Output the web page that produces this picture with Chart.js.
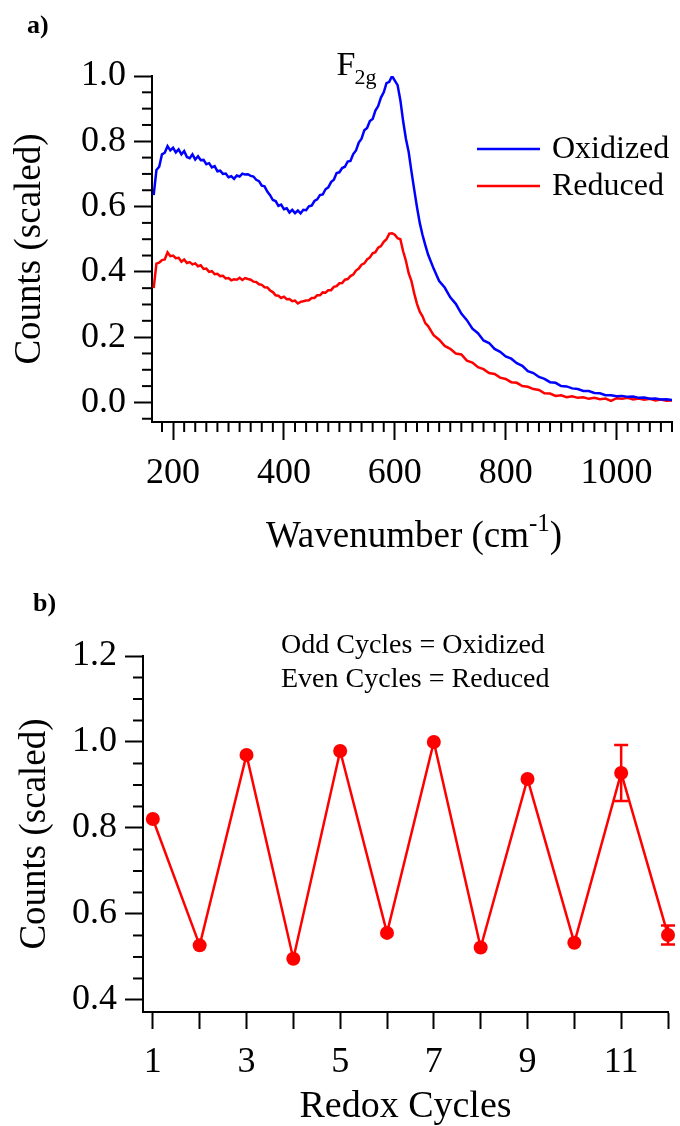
<!DOCTYPE html>
<html>
<head>
<meta charset="UTF-8">
<style>
  html, body { margin: 0; padding: 0; background: #fff; }
  #wrap { position: relative; width: 680px; height: 1126px; overflow: hidden; }
  canvas { position: absolute; left: 0; }
  #specChart { top: 0; }
  #cycleChart { top: 580px; }
</style>
</head>
<body>
<div id="wrap">
  <canvas id="specChart" width="680" height="580"></canvas>
  <canvas id="cycleChart" width="680" height="546"></canvas>
</div>
<script src="https://cdn.jsdelivr.net/npm/chart.js"></script>
<script>
// panel a) Raman spectra
const wavenumber = [165,170,175,180,185,190,195,200,205,210,215,220,225,230,235,240,245,250,255,260,
  265,270,275,280,285,290,295,300,305,310,315,320,325,330,335,340,345,350,355,360,
  365,370,375,380,385,390,395,400,405,410,415,420,425,430,435,440,445,450,455,460,
  465,470,475,480,485,490,495,500,505,510,515,520,525,530,535,540,545,550,555,560,
  565,570,575,580,585,590,595,600,605,610,615,620,625,630,635,640,645,650,655,660,
  670,680,690,700,710,720,730,740,750,760,770,780,790,800,810,820,830,840,850,860,
  870,880,890,900,910,920,930,940,950,960,970,980,990,1000,1010,1020,1030,1040,1050,1060,
  1070,1080,1090,1100];
const oxidized = [0.635,0.712,0.722,0.760,0.765,0.785,0.772,0.780,0.766,0.775,0.760,0.770,0.752,0.748,0.760,0.744,0.754,0.742,0.743,0.730,
  0.733,0.720,0.724,0.708,0.710,0.700,0.701,0.690,0.693,0.685,0.695,0.692,0.701,0.698,0.699,0.694,0.692,0.682,0.678,0.664,
  0.662,0.646,0.635,0.620,0.617,0.602,0.606,0.592,0.595,0.582,0.590,0.580,0.588,0.579,0.590,0.589,0.601,0.603,0.617,0.622,
  0.635,0.637,0.653,0.659,0.675,0.682,0.703,0.705,0.718,0.722,0.738,0.740,0.761,0.772,0.796,0.808,0.834,0.841,0.862,0.868,
  0.894,0.908,0.934,0.950,0.978,0.982,1.000,0.986,0.972,0.926,0.862,0.808,0.767,0.708,0.652,0.598,0.550,0.513,0.482,0.453,
  0.410,0.372,0.352,0.322,0.302,0.272,0.252,0.226,0.212,0.190,0.182,0.164,0.155,0.141,0.134,0.120,0.112,0.096,0.090,0.078,
  0.072,0.062,0.060,0.050,0.049,0.043,0.041,0.035,0.035,0.029,0.028,0.022,0.022,0.019,0.020,0.017,0.018,0.014,0.015,0.011,
  0.012,0.009,0.010,0.007];
const reduced = [0.350,0.425,0.428,0.436,0.438,0.460,0.448,0.450,0.442,0.443,0.431,0.438,0.427,0.430,0.423,0.426,0.417,0.420,0.409,0.410,
  0.400,0.402,0.393,0.394,0.387,0.388,0.380,0.381,0.374,0.377,0.376,0.382,0.375,0.381,0.378,0.376,0.370,0.369,0.362,0.360,
  0.353,0.352,0.343,0.338,0.328,0.327,0.320,0.324,0.316,0.317,0.310,0.312,0.303,0.308,0.310,0.312,0.313,0.320,0.320,0.328,
  0.328,0.337,0.336,0.344,0.344,0.354,0.356,0.365,0.366,0.376,0.378,0.387,0.392,0.404,0.410,0.422,0.426,0.438,0.444,0.457,
  0.460,0.474,0.479,0.492,0.500,0.517,0.518,0.514,0.503,0.500,0.463,0.434,0.396,0.372,0.334,0.302,0.278,0.264,0.243,0.234,
  0.206,0.192,0.173,0.164,0.150,0.147,0.128,0.122,0.108,0.102,0.090,0.087,0.076,0.072,0.062,0.060,0.050,0.048,0.041,0.038,
  0.028,0.027,0.020,0.022,0.016,0.019,0.014,0.016,0.011,0.014,0.010,0.012,0.005,0.013,0.011,0.014,0.009,0.012,0.008,0.011,
  0.006,0.009,0.005,0.006];
const specXTicks = [200, 400, 600, 800, 1000];
const specYTicks = [0.0, 0.2, 0.4, 0.6, 0.8, 1.0];

// panel b) intensity over redox cycles
const cycles = [1, 2, 3, 4, 5, 6, 7, 8, 9, 10, 11, 12];
const cycleCounts = [0.821, 0.527, 0.970, 0.496, 0.979, 0.556, 1.000, 0.522, 0.914, 0.533, 0.928, 0.551];
const cycleErrors = [null, null, null, null, null, null, null, null, null, null, 0.065, 0.022];
const cycleXTicks = [1, 2, 3, 4, 5, 6, 7, 8, 9, 10, 11, 12];
const cycleYTicks = [0.4, 0.6, 0.8, 1.0, 1.2];

const SERIF = "'Liberation Serif', 'Times New Roman', serif";
Chart.defaults.font.family = SERIF;
Chart.defaults.color = '#000';

const minorTicks = {
  id: 'minorTicks',
  afterDraw(chart, args, opts) {
    const ctx = chart.ctx;
    ctx.save();
    ctx.strokeStyle = '#000';
    ctx.lineWidth = 2;
    (opts.axes || []).forEach(a => {
      const s = chart.scales[a.id];
      const majors = s.ticks.map(t => t.value);
      for (let i = 0; ; i++) {
        const v = Math.round((a.from + i * a.step) * 1e6) / 1e6;
        if (v > s.max + 1e-9) break;
        if (v < s.min || majors.some(m => Math.abs(m - v) < 1e-6)) continue;
        const p = s.getPixelForValue(v);
        ctx.beginPath();
        if (s.isHorizontal()) { ctx.moveTo(p, s.top); ctx.lineTo(p, s.top + a.len); }
        else { ctx.moveTo(s.right, p); ctx.lineTo(s.right - a.len, p); }
        ctx.stroke();
      }
    });
    ctx.restore();
  }
};

const textMarks = {
  id: 'textMarks',
  afterDraw(chart, args, opts) {
    const ctx = chart.ctx;
    ctx.save();
    ctx.fillStyle = '#000';
    ctx.textBaseline = 'alphabetic';
    (opts.items || []).forEach(it => {
      let x = it.x;
      it.parts.forEach(p => {
        ctx.font = (p.bold ? 'bold ' : '') + p.size + 'px ' + SERIF;
        ctx.fillText(p.text, x, it.y - (p.rise || 0));
        x += ctx.measureText(p.text).width;
      });
    });
    ctx.restore();
  }
};

const specExtras = {
  id: 'specExtras',
  afterDraw(chart) {
    const ctx = chart.ctx;
    const a = chart.chartArea;
    const xs = chart.scales.x, ys = chart.scales.y;
    ctx.save();
    ctx.fillStyle = '#000';
    // x axis title with superscript
    const parts = [['Wavenumber (cm', 37, 0], ['-1', 25, 16], [')', 37, 0]];
    let w = 0;
    parts.forEach(p => { ctx.font = p[1] + 'px ' + SERIF; w += ctx.measureText(p[0]).width; });
    let x = (a.left + a.right) / 2 - w / 2 + 2;
    parts.forEach(p => {
      ctx.font = p[1] + 'px ' + SERIF;
      ctx.fillText(p[0], x, 547 - p[2]);
      x += ctx.measureText(p[0]).width;
    });
    // F2g peak label
    const fx = xs.getPixelForValue(495);
    const fy = ys.getPixelForValue(1.003);
    ctx.font = '34px ' + SERIF;
    ctx.fillText('F', fx, fy);
    const fw = ctx.measureText('F').width;
    ctx.font = '22px ' + SERIF;
    ctx.fillText('2g', fx + fw - 1, fy + 9);
    // legend
    ctx.font = '32px ' + SERIF;
    ctx.textBaseline = 'middle';
    chart.data.datasets.forEach((ds, i) => {
      const y = 149 + i * 37;
      ctx.strokeStyle = ds.borderColor;
      ctx.lineWidth = 2.5;
      ctx.beginPath();
      ctx.moveTo(477, y); ctx.lineTo(540, y);
      ctx.stroke();
      ctx.fillText(ds.label, 552, y + 1);
    });
    ctx.restore();
  }
};

const errorBars = {
  id: 'errorBars',
  afterDatasetsDraw(chart) {
    const ctx = chart.ctx;
    const xs = chart.scales.x, ys = chart.scales.y;
    ctx.save();
    ctx.strokeStyle = '#ff0000';
    ctx.lineWidth = 2.5;
    cycleErrors.forEach((e, i) => {
      if (e == null) return;
      const px = xs.getPixelForValue(cycles[i]);
      const top = ys.getPixelForValue(cycleCounts[i] + e);
      const bot = ys.getPixelForValue(cycleCounts[i] - e);
      ctx.beginPath();
      ctx.moveTo(px, top); ctx.lineTo(px, bot);
      ctx.moveTo(px - 7, top); ctx.lineTo(px + 7, top);
      ctx.moveTo(px - 7, bot); ctx.lineTo(px + 7, bot);
      ctx.stroke();
    });
    ctx.restore();
  }
};

const axisGrid = len => ({
  display: true, drawOnChartArea: false, drawTicks: true,
  tickLength: len, tickWidth: 2, tickColor: '#000', color: '#000'
});
const axisBorder = { display: true, color: '#000', width: 2 };

new Chart(document.getElementById('specChart'), {
  type: 'line',
  data: {
    datasets: [
      { label: 'Oxidized', data: wavenumber.map((w, i) => ({ x: w, y: oxidized[i] })),
        borderColor: '#0000ff', borderWidth: 2.5, pointRadius: 0, tension: 0 },
      { label: 'Reduced', data: wavenumber.map((w, i) => ({ x: w, y: reduced[i] })),
        borderColor: '#ff0000', borderWidth: 2.5, pointRadius: 0, tension: 0 }
    ]
  },
  options: {
    responsive: false, animation: false, devicePixelRatio: 1,
    layout: { padding: { left: 0, right: 8, top: 76, bottom: 0 } },
    plugins: {
      legend: { display: false }, tooltip: { enabled: false },
      minorTicks: { axes: [{ id: 'x', from: 160, step: 20, len: 10 }, { id: 'y', from: -0.05, step: 0.05, len: 10 }] },
      textMarks: { items: [{ x: 27, y: 33, parts: [{ text: 'a)', size: 26, bold: true }] }] }
    },
    scales: {
      x: {
        type: 'linear', min: 162, max: 1100,
        afterBuildTicks: s => { s.ticks = specXTicks.map(v => ({ value: v })); },
        afterFit: s => { s.height = 158; },
        grid: axisGrid(18), border: axisBorder,
        ticks: { font: { size: 36 }, padding: 12, maxRotation: 0, callback: v => String(v) }
      },
      y: {
        min: -0.06, max: 1.0,
        afterBuildTicks: s => { s.ticks = specYTicks.map(v => ({ value: v })); },
        afterFit: s => { s.width = 152; },
        grid: axisGrid(18), border: axisBorder,
        ticks: { font: { size: 36 }, padding: 8, callback: v => v.toFixed(1) },
        title: { display: true, text: 'Counts (scaled)', font: { size: 37 }, padding: { top: 8 } }
      }
    }
  },
  plugins: [minorTicks, textMarks, specExtras]
});

new Chart(document.getElementById('cycleChart'), {
  type: 'line',
  data: {
    datasets: [{
      label: 'Counts', data: cycles.map((c, i) => ({ x: c, y: cycleCounts[i] })),
      borderColor: '#ff0000', backgroundColor: '#ff0000', borderWidth: 2.5,
      pointRadius: 7, pointBorderWidth: 0, tension: 0, clip: false
    }]
  },
  options: {
    responsive: false, animation: false, devicePixelRatio: 1,
    layout: { padding: { left: 0, right: 8, top: 76, bottom: 0 } },
    plugins: {
      legend: { display: false }, tooltip: { enabled: false },
      minorTicks: { axes: [{ id: 'y', from: 0.35, step: 0.05, len: 10 }] },
      textMarks: { items: [
        { x: 33, y: 31, parts: [{ text: 'b)', size: 26, bold: true }] },
        { x: 281, y: 73, parts: [{ text: 'Odd Cycles = Oxidized', size: 28 }] },
        { x: 281, y: 107, parts: [{ text: 'Even Cycles = Reduced', size: 28 }] }
      ] }
    },
    scales: {
      x: {
        type: 'linear', min: 0.79, max: 12,
        afterBuildTicks: s => { s.ticks = cycleXTicks.map(v => ({ value: v })); },
        afterFit: s => { s.height = 114; },
        grid: axisGrid(17), border: axisBorder,
        ticks: { font: { size: 36 }, padding: 12, maxRotation: 0, autoSkip: false,
          callback: v => (v % 2 === 1 ? String(v) : '') },
        title: { display: true, text: 'Redox Cycles', font: { size: 38, lineHeight: 1 }, padding: { top: 0, bottom: 0 } }
      },
      y: {
        min: 0.372, max: 1.2,
        afterBuildTicks: s => { s.ticks = cycleYTicks.map(v => ({ value: v })); },
        afterFit: s => { s.width = 143; },
        grid: axisGrid(18), border: axisBorder,
        ticks: { font: { size: 36 }, padding: 8, callback: v => v.toFixed(1) },
        title: { display: true, text: 'Counts (scaled)', font: { size: 37 }, padding: { top: 13 } }
      }
    }
  },
  plugins: [minorTicks, textMarks, errorBars]
});
</script>
</body>
</html>
